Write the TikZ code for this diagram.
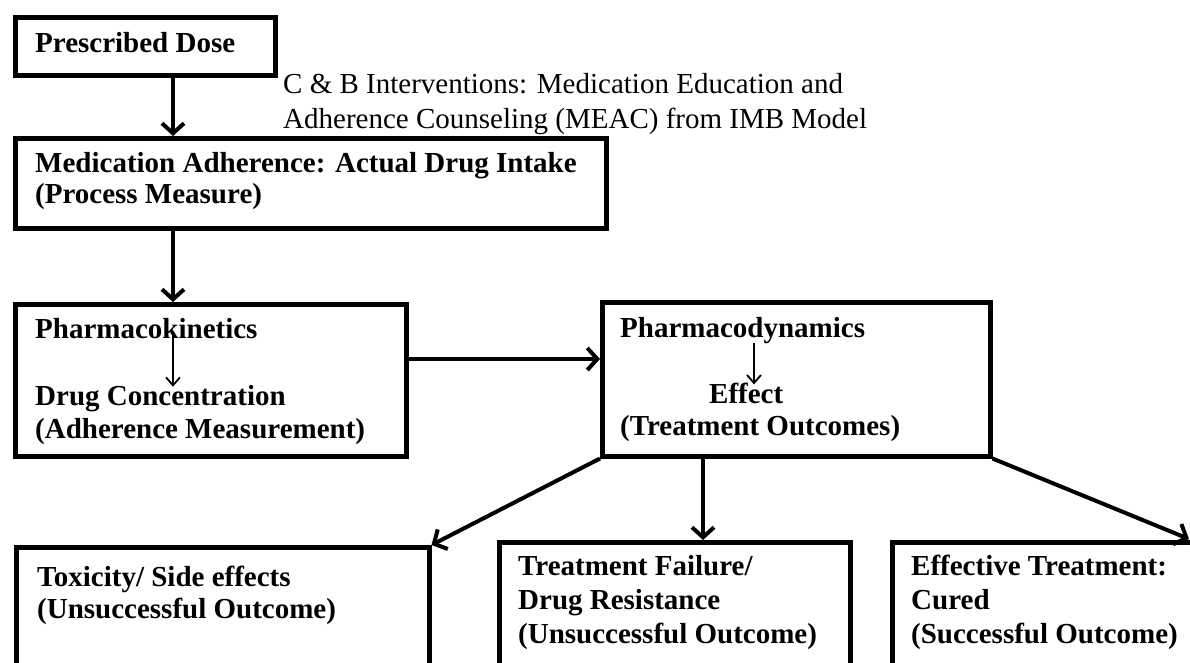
\documentclass[tikz,border=0pt]{standalone}
\usepackage{fontspec}
\setmainfont{Liberation Serif}
\usetikzlibrary{arrows.meta}
\begin{document}
\begin{tikzpicture}[x=1pt,y=-1pt,
  box/.style={draw,line width=4.5pt,anchor=north west,inner sep=0pt,rectangle},
  lbl/.style={anchor=base west,inner sep=0pt,font=\fontsize{29}{33}\selectfont\bfseries},
  note/.style={anchor=base west,inner sep=0pt,font=\fontsize{29}{33}\selectfont},
  arr/.style={line width=4pt,-{Straight Barb[length=10pt,width=22pt]}},
  sarr/.style={line width=1.8pt,-{Straight Barb[length=8pt,width=14pt]}}]
\useasboundingbox (0,0) rectangle (1190,662);
\clip (0,0) rectangle (1190,662);
% boxes
\node[box,minimum width=260pt,minimum height=58pt] (pres) at (13,15) {};
\node[box,minimum width=591pt,minimum height=90pt] (ma) at (13,136) {};
\node[box,minimum width=391pt,minimum height=152pt] (pk) at (13,302) {};
\node[box,minimum width=388pt,minimum height=154pt] (pd) at (600,300) {};
\node[box,minimum width=413pt,minimum height=160pt] (tox) at (14,545) {};
\node[box,minimum width=351pt,minimum height=160pt] (mid) at (497,540) {};
\node[box,minimum width=360pt,minimum height=160pt] (eff) at (890,540) {};
% texts
\node[lbl] (t0) at (35,52) {Prescribed Dose};
\node[note] (n1) at (283,93) {C \& B Interventions: Medication Education and};
\node[note] (n2) at (283,128) {Adherence Counseling (MEAC) from IMB Model};
\node[lbl] (m1) at (35,172) {Medication Adherence: Actual Drug Intake};
\node[lbl] (m2) at (35,203) {(Process Measure)};
\node[lbl] (k1) at (35,338) {Pharmacokinetics};
\node[lbl] (k2) at (35,405) {Drug Concentration};
\node[lbl] (k3) at (35,438) {(Adherence Measurement)};
\node[lbl] (d1) at (620,337) {Pharmacodynamics};
\node[lbl] (d2) at (709,403) {Effect};
\node[lbl] (d3) at (620,435) {(Treatment Outcomes)};
\node[lbl] (x1) at (37,586) {Toxicity/ Side effects};
\node[lbl] (x2) at (37,618) {(Unsuccessful Outcome)};
\node[lbl] (y1) at (518,575) {Treatment Failure/};
\node[lbl] (y2) at (518,609) {Drug Resistance};
\node[lbl] (y3) at (518,643) {(Unsuccessful Outcome)};
\node[lbl] (z1) at (911,575) {Effective Treatment:};
\node[lbl] (z2) at (911,609) {Cured};
\node[lbl] (z3) at (911,643) {(Successful Outcome)};
% helper coordinates
\coordinate (ax) at (173,0);
\coordinate (ay) at (0,359);
\coordinate (bx) at (703,0);
\coordinate (kx) at (173,0);
\coordinate (dx) at (754,0);
\coordinate (rend) at (1189,539);
% connectors
\draw[arr] (ax |- pres.south) -- (ax |- ma.north);
\draw[arr] (ax |- ma.south) -- (ax |- pk.north);
\draw[arr] (pk.east |- ay) -- (pd.west |- ay);
\draw[arr] (pd.south west) -- (tox.north east);
\draw[arr] (bx |- pd.south) -- (bx |- mid.north);
\draw[arr] (pd.south east) -- (rend);
\draw[sarr] ([yshift=3pt]kx |- k1.south) -- ([yshift=-2pt]kx |- k2.north);
\draw[sarr] (dx |- d1.south) -- ([yshift=-2pt]dx |- d2.north);
\end{tikzpicture}
\end{document}
